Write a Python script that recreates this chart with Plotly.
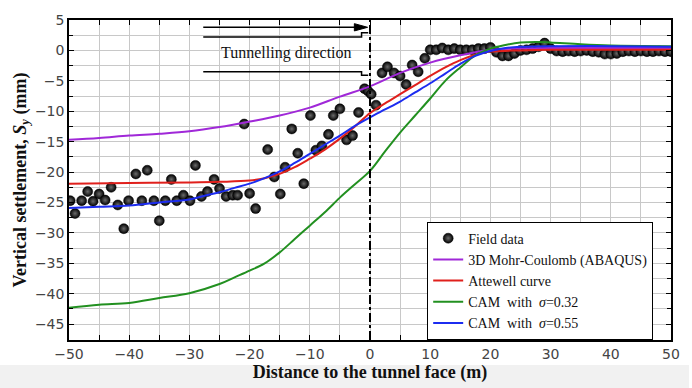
import plotly.graph_objects as go

# ---------------- data ----------------
field_x = [-49.8, -49.0, -47.9, -46.9, -46.0, -45.0, -44.0, -43.0, -41.9, -40.9, -40.1, -38.9,
           -37.9, -37.0, -35.9, -35.0, -34.0, -33.0, -32.1, -31.0, -29.9, -29.0, -28.0, -27.0,
           -25.9, -25.0, -23.9, -22.8, -22.0, -20.9, -20.0, -19.0, -17.0, -15.9, -14.9, -14.1,
           -13.0, -12.0, -11.0, -9.9, -9.0, -8.0, -6.9, -6.1, -5.0, -3.9, -2.9, -1.9, -0.9,
           -0.3, 0.2, 1.0, 2.0, 2.9, 4.0, 5.0, 6.0, 7.0, 8.0, 9.1,
           10, 11, 12, 13, 14, 15, 16, 17, 18, 19, 20, 21, 22, 23, 24, 25, 26, 27, 28, 29,
           30, 31, 32, 33, 34, 35, 36, 37, 38, 39, 40, 41, 42, 43, 44, 45, 46, 47, 48, 49, 50]
field_y = [-24.7, -26.8, -24.7, -23.2, -24.8, -23.6, -24.6, -22.5, -25.4, -29.3, -24.7, -20.3,
           -24.7, -19.7, -24.7, -28.0, -24.7, -21.2, -24.7, -23.8, -24.7, -18.9, -24.0, -23.2,
           -21.2, -22.7, -24.0, -23.8, -23.8, -12.1, -23.5, -26.0, -16.3, -20.8, -23.6, -19.2,
           -12.9, -16.9, -21.9, -10.7, -16.4, -15.7, -13.8, -10.7, -9.6, -14.7, -14.0, -10.2, -6.3,
           -6.7, -7.2, -9.0, -3.7, -2.7, -3.7, -4.2, -5.6, -2.4, -3.5, -1.3,
           0.1, 0.1, 0.4, 0.1, 0.3, 0.1, 0.1, 0.1, 0.3, 0.3, 0.5, -0.3, -0.9, -0.9, -0.5, 0.0, 0.1, 0.3, 0.6, 1.2,
           0.3, -0.1, -0.2, -0.1, -0.2, -0.1, 0.0, -0.2, -0.3, -0.6, -0.6, -0.5, -0.2, -0.1, -0.2, -0.1, -0.2, -0.2, -0.1, -0.2, -0.2]

mc_x = [-50, -45, -40, -35, -30, -25, -20, -15, -10, -5, 0, 5, 10, 15, 20, 25, 30, 40, 50]
mc_y = [-14.7, -14.4, -14.0, -13.7, -13.3, -12.6, -11.7, -10.7, -9.4, -7.6, -5.9, -3.7, -2.0, -0.8, 0.1, 0.3, 0.4, 0.4, 0.4]

att_x = [-50, -40, -30, -25, -20, -17.5, -15, -12.5, -10, -7.5, -5, -2.5, 0, 2.5, 5, 7.5, 10, 12.5, 15, 17.5, 20, 25, 30, 40, 50]
att_y = [-21.9, -21.8, -21.7, -21.6, -21.4, -21.0, -20.3, -19.2, -17.8, -16.3, -14.5, -12.5, -10.3,
         -8.7, -7.2, -5.7, -4.2, -2.8, -1.6, -0.7, -0.2, 0.0, 0.1, 0.1, 0.1]

cam32_x = [-50, -45, -40, -35, -30, -25, -22.5, -20, -17.5, -15, -12.5, -10, -7.5, -5, -2.5, 0, 2.5, 5,
           7.5, 10, 12.5, 15, 17.5, 20, 22.5, 25, 27.5, 30, 35, 40, 50]
cam32_y = [-42.3, -41.8, -41.5, -40.7, -39.9, -38.4, -37.3, -36.2, -35.0, -33.2, -31.0, -28.8, -26.6,
           -24.2, -22.0, -19.8, -16.6, -13.5, -10.7, -7.9, -5.0, -2.8, -0.8, 0.3, 0.9, 1.3, 1.4, 1.3, 1.0, 0.8, 0.7]

cam55_x = [-50, -45, -40, -35, -30, -27.5, -25, -22.5, -20, -17.5, -15, -12.5, -10, -7.5, -5, -2.5, 0,
           2.5, 5, 7.5, 10, 12.5, 15, 17.5, 20, 22.5, 25, 30, 40, 50]
cam55_y = [-25.9, -25.7, -25.5, -25.0, -24.5, -23.9, -23.3, -22.6, -21.9, -21.0, -19.9, -18.5, -17.0,
           -15.5, -14.0, -12.4, -11.0, -9.7, -8.4, -6.9, -5.4, -3.8, -2.2, -0.9, -0.1, 0.4, 0.6, 0.7, 0.7, 0.6]

x_range = [-50, 50]
y_range = [-47.6, 5]

SERIF = "Liberation Serif, Times New Roman, serif"
SANS = "DejaVu Sans, Verdana, sans-serif"

fig = go.Figure()

fig.add_trace(go.Scatter(
    x=field_x, y=field_y, mode="markers", name="Field data",
    marker=dict(size=10, color="#000000", line=dict(width=0.5, color="#000000"),
                gradient=dict(type="radial", color="#6a6a6a")),
))
fig.add_trace(go.Scatter(x=mc_x, y=mc_y, mode="lines", name="3D Mohr-Coulomb (ABAQUS)",
                         line=dict(color="#a028d8", width=2, shape="spline")))
fig.add_trace(go.Scatter(x=att_x, y=att_y, mode="lines", name="Attewell curve",
                         line=dict(color="#e0201c", width=2, shape="spline")))
fig.add_trace(go.Scatter(x=cam32_x, y=cam32_y, mode="lines", name="CAM  with  <i>σ</i>=0.32",
                         line=dict(color="#229020", width=2, shape="spline")))
fig.add_trace(go.Scatter(x=cam55_x, y=cam55_y, mode="lines", name="CAM  with  <i>σ</i>=0.55",
                         line=dict(color="#1c2cf0", width=2, shape="spline")))

# tunnel face line
fig.add_shape(type="line", x0=0, x1=0, y0=y_range[0], y1=y_range[1], xref="x", yref="y",
              line=dict(color="black", width=2, dash="dashdot"))

# tunnelling direction sketch (arrow drawn as shapes)
fig.add_shape(type="line", xref="x", yref="y", x0=-27.7, x1=-2.0, y0=3.8, y1=3.8,
              line=dict(color="black", width=1.5))
fig.add_shape(type="path", xref="x", yref="y",
              path="M -2.6,4.4 L -0.4,3.8 L -2.6,3.2 Z",
              fillcolor="black", line=dict(color="black", width=1))
fig.add_shape(type="path", xref="x", yref="y",
              path="M -27.7,2.2 L -1.4,2.2 L -1.4,2.9 L -0.3,2.9",
              line=dict(color="black", width=1.5))
fig.add_shape(type="path", xref="x", yref="y",
              path="M -27.7,-3.5 L -1.4,-3.5 L -1.4,-4.1 L -0.3,-4.1",
              line=dict(color="black", width=1.5))
fig.add_annotation(x=-13.9, y=-0.5, xref="x", yref="y", text="Tunnelling direction", showarrow=False,
                   font=dict(family=SERIF, size=16, color="#111111"))

# light gray band at bottom of picture
fig.add_shape(type="rect", xref="paper", yref="paper", x0=-0.13, x1=1.03, y0=-0.078, y1=-0.2,
              fillcolor="#f1f1f1", line=dict(width=0), layer="below")

axis_common = dict(showline=True, linecolor="black", linewidth=1.5, mirror="ticks",
                   ticks="inside", ticklen=5, tickcolor="black", showgrid=True,
                   gridcolor="#c8c8c8", gridwidth=1, zeroline=False,
                   tickfont=dict(family=SANS, size=14, color="#444444"))

fig.update_xaxes(range=x_range, dtick=10, tick0=-50,
                 minor=dict(dtick=5, showgrid=True, gridcolor="#c8c8c8", ticks="inside", ticklen=5, tickcolor="black"),
                 title=dict(text="<b>Distance to the tunnel face (m)</b>",
                            font=dict(family=SERIF, size=18, color="#111111"), standoff=2),
                 **axis_common)
fig.update_yaxes(range=y_range, dtick=5, tick0=0,
                 minor=dict(dtick=2.5, showgrid=True, gridcolor="#c8c8c8", ticks="inside", ticklen=4, tickcolor="black"),
                 title=dict(text="<b>Vertical settlement, <i>S<sub>y</sub></i> (mm)</b>",
                            font=dict(family=SERIF, size=18, color="#111111"), standoff=4),
                 **axis_common)

fig.update_layout(
    width=692, height=388,
    margin=dict(l=69, r=13, t=16, b=45),
    paper_bgcolor="white", plot_bgcolor="white",
    font=dict(family=SERIF, color="#111111"),
    legend=dict(x=0.595, y=0.37, xanchor="left", yanchor="top",
                bgcolor="white", bordercolor="black", borderwidth=1,
                font=dict(family=SERIF, size=14, color="#111111"),
                tracegroupgap=0, itemwidth=30),
    showlegend=True,
)

fig.write_html("out.html")
